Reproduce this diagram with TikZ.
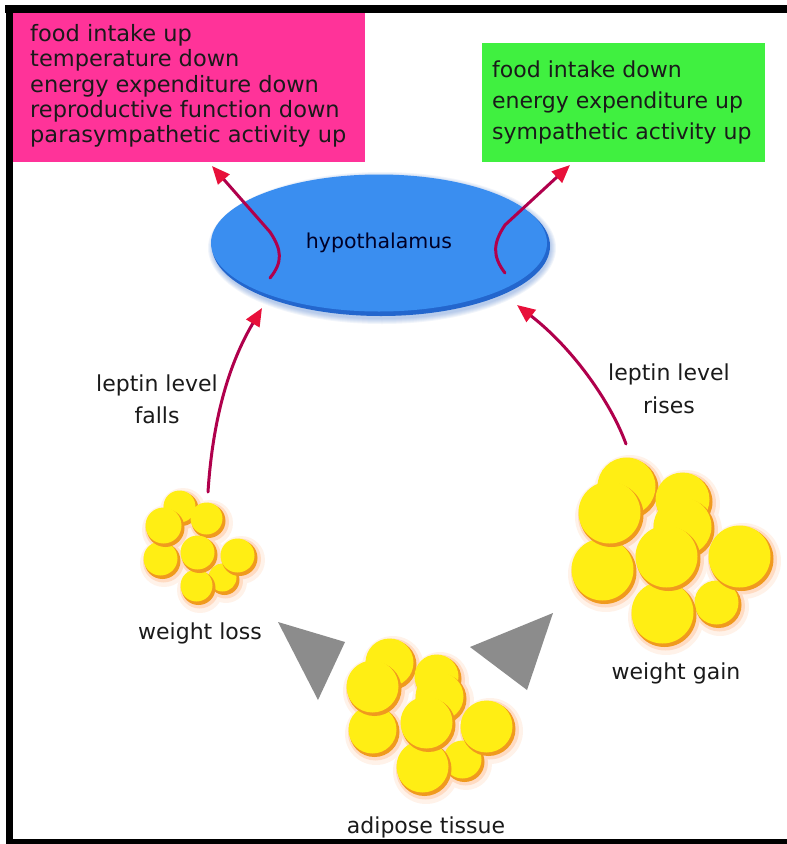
\documentclass[tikz,border=0pt]{standalone}
\usepackage{fontspec}
\setmainfont{DejaVu Sans}
\usetikzlibrary{arrows.meta,shapes.geometric}

\definecolor{pinkfill}{HTML}{FF3399}
\definecolor{greenfill}{HTML}{40F040}
\definecolor{hypblue}{HTML}{3A8EF0}
\definecolor{hypdeep}{HTML}{1D5CC4}
\definecolor{sigline}{HTML}{B0004C}
\definecolor{sigtip}{HTML}{E8103A}
\definecolor{wedge}{HTML}{8C8C8C}
\definecolor{fatyellow}{HTML}{FFEE14}
\definecolor{fatrim}{HTML}{F09A1E}
\definecolor{fatglow}{HTML}{FF9A50}
\definecolor{inktext}{HTML}{1A1A1A}

\tikzset{
  lbl/.style={font=\fontsize{22}{27}\selectfont, text=inktext, inner sep=0pt},
  boxline/.style={lbl, font=\fontsize{22.5}{27}\selectfont, anchor=base west},
  greenline/.style={lbl, font=\fontsize{22}{27}\selectfont, anchor=base west},
  signal/.style={draw=sigline, line width=3pt, line cap=round,
    -{Triangle[length=18pt,width=15pt,color=sigtip]}},
  wedgeshape/.style={fill=wedge},
}

% a cluster of fat cells: list of x/y/r, drawn back to front
\newcommand\cellcluster[1]{%
  \begin{scope}[transparency group, opacity=0.12]
    \foreach \cx/\cy/\cr in {#1} \fill[fatglow] (\cx+3,\cy+4) circle[radius=\cr pt+6pt];
  \end{scope}
  \begin{scope}[transparency group, opacity=0.25]
    \foreach \cx/\cy/\cr in {#1} \fill[fatglow] (\cx+2.5,\cy+3) circle[radius=\cr pt+2.5pt];
  \end{scope}
  \foreach \cx/\cy/\cr in {#1} {
    \fill[fatrim] (\cx+1.5,\cy+2) circle[radius=\cr pt];
    \fill[fatyellow] (\cx-0.5,\cy-0.5) circle[radius=\cr pt-1pt];
  }%
}

\begin{document}
\begin{tikzpicture}[x=1pt,y=-1pt]
  \useasboundingbox (0,0) rectangle (787,844);
  \fill[white] (0,0) rectangle (787,844);

  % frame
  \fill[black] (5,5) rectangle (787,13);
  \fill[black] (6,5) rectangle (13,844);
  \fill[black] (6,839) rectangle (787,844);

  % response boxes
  \node[fill=pinkfill, minimum width=352pt, minimum height=149pt, inner sep=0pt,
        anchor=north west] (pinkbox) at (13,13) {};
  \node[boxline] (p1) at (30,41)  {food intake up};
  \node[boxline] (p2) at (30,66)  {temperature down};
  \node[boxline] (p3) at (30,92)  {energy expenditure down};
  \node[boxline] (p4) at (30,117) {reproductive function down};
  \node[boxline] (p5) at (30,142) {parasympathetic activity up};

  \node[fill=greenfill, minimum width=283pt, minimum height=119pt, inner sep=0pt,
        anchor=north west] (greenbox) at (482,43) {};
  \node[greenline] (g1) at (492,77)  {food intake down};
  \node[greenline] (g2) at (492,108) {energy expenditure up};
  \node[greenline] (g3) at (492,139) {sympathetic activity up};

  % hypothalamus with soft shadow
  \foreach \k in {1,...,6}
    \fill[hypdeep, opacity=0.06] (382,248) ellipse [x radius=168pt+\k pt, y radius=70pt+\k pt];
  \fill[hypdeep!80!hypblue] (381,246) ellipse [x radius=169pt, y radius=70pt];
  \node[ellipse, fill=hypblue, minimum width=336pt, minimum height=137pt, inner sep=0pt,
        lbl, font=\fontsize{20.5}{25}\selectfont, text=black!85!blue] (hyp) at (379,243) {hypothalamus};

  % fat cell clusters
  \cellcluster{180/507/17, 207/519/17, 223/578/15, 197/586/17, 161/559/18,
               164/526/19, 238/556/18, 198/553/18}
  \cellcluster{627/487/30, 683/500/28, 717/603/23, 663/613/32, 603/570/32,
               683/527/30, 610/513/32, 667/557/32, 740/557/32}
  \cellcluster{390/663/25, 437/677/23, 463/760/20, 423/767/27, 373/730/25,
               440/697/25, 373/687/27, 427/723/27, 487/727/27}

  \coordinate (lossTop) at (208,492);
  \coordinate (gainTop) at (626,444);
  \coordinate (fallsTip) at (262,308);
  \coordinate (risesTip) at (517,305);
  \coordinate (outL) at (270,278);
  \coordinate (outR) at (505,273);
  \coordinate (pinkTip) at (212,166);
  \coordinate (greenTip) at (570,165);

  % labels
  \node[lbl, align=center, font=\fontsize{22}{32}\selectfont] (fallslbl) at (157,399)
    {leptin level\\falls};
  \node[lbl, align=center, font=\fontsize{22}{33}\selectfont] (riseslbl) at (669,389)
    {leptin level\\rises};
  \node[lbl] (losslbl) at (200,633) {weight loss};
  \node[lbl] (gainlbl) at (676,673) {weight gain};
  \node[lbl] (adiposelbl) at (426,827) {adipose tissue};

  % cycle wedges
  \fill[wedgeshape] (278,622) -- (345,642) -- (318,700) -- cycle;
  \fill[wedgeshape] (470,647) -- (553,613) -- (527,690) -- cycle;

  % leptin signals
  \draw[signal] (lossTop) .. controls (212,430) and (225,370) .. (fallsTip);
  \draw[signal] (gainTop) .. controls (612,405) and (575,350) .. (risesTip);

  % hypothalamic responses
  \draw[signal] (outL) .. controls (283,262) and (282,250) .. (270,232) -- (pinkTip);
  \draw[signal] (outR) .. controls (492,256) and (493,243) .. (505,225) -- (greenTip);
\end{tikzpicture}
\end{document}
